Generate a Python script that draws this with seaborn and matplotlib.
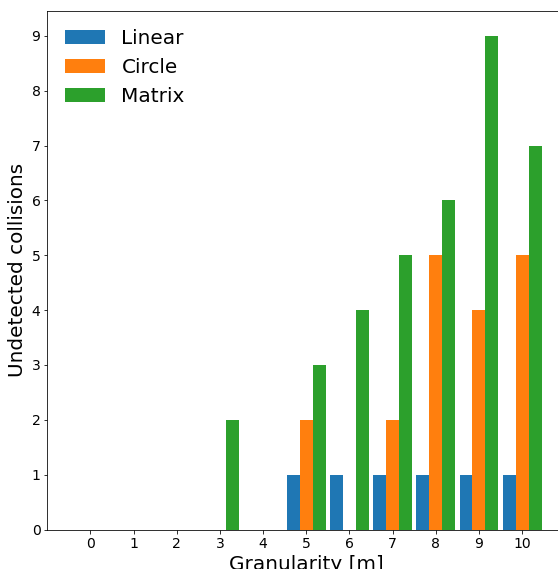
import matplotlib
matplotlib.use("Agg")
import matplotlib.pyplot as plt
import seaborn as sns
import pandas as pd

granularity = [0, 1, 2, 3, 4, 5, 6, 7, 8, 9, 10]
linear = [0, 0, 0, 0, 0, 1, 1, 1, 1, 1, 1]
circle = [0, 0, 0, 0, 0, 2, 0, 2, 5, 4, 5]
matrix = [0, 0, 0, 2, 0, 3, 4, 5, 6, 9, 7]
methods = ["Linear", "Circle", "Matrix"]

df = pd.DataFrame({
    "granularity": granularity * 3,
    "collisions": linear + circle + matrix,
    "method": [m for m in methods for _ in granularity],
})

# rendered at 72 dpi so points map to pixels
fig = plt.figure(figsize=(558 / 72, 569 / 72), dpi=72)
ax = fig.add_axes([0.0851, 0.0694, 0.9276, 0.911])
sns.barplot(data=df, x="granularity", y="collisions", hue="method",
            hue_order=methods, palette=["#1f77b4", "#ff7f0e", "#2ca02c"],
            saturation=1, width=0.9, ax=ax)

ax.set_xlim(-0.995, 10.995)
ax.set_ylim(0, 9.45)
ax.set_yticks(range(0, 10))
ax.tick_params(labelsize=14)
ax.set_xlabel("Granularity [m]", fontsize=20)
ax.set_ylabel("Undetected collisions", fontsize=20)
ax.legend(loc="upper left", frameon=False, fontsize=20)

fig.savefig("out.png", dpi=72)
